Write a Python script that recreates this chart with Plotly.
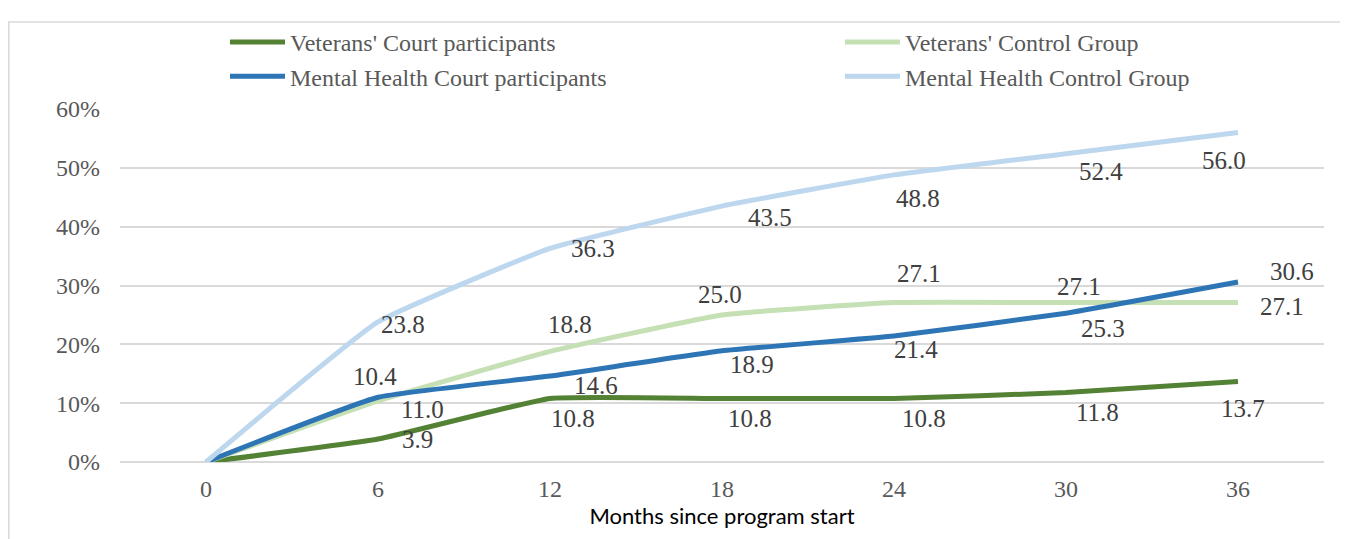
import plotly.graph_objects as go

# ---- data ----
months = ["0", "6", "12", "18", "24", "30", "36"]
series_names = [
    "Veterans' Court participants",
    "Veterans' Control Group",
    "Mental Health Court participants",
    "Mental Health Control Group",
]
vet_court = [0, 3.9, 10.8, 10.8, 10.8, 11.8, 13.7]
vet_control = [0, 10.4, 18.8, 25.0, 27.1, 27.1, 27.1]
mh_court = [0, 11.0, 14.6, 18.9, 21.4, 25.3, 30.6]
mh_control = [0, 23.8, 36.3, 43.5, 48.8, 52.4, 56.0]
y_ticks = [0, 10, 20, 30, 40, 50, 60]
y_tick_labels = ["0%", "10%", "20%", "30%", "40%", "50%", "60%"]

# ---- styles ----
colors = ["#548235", "#C5E0B4", "#2E75B6", "#BDD7EE"]
legend_of = ["legend", "legend2", "legend", "legend2"]
# label offsets (dx right, dy down) in px, per point (index 0 unlabeled)
offsets = [
    [None, (39, 0), (23, 20), (28, 20), (30, 20), (31, 20), (5, 27)],
    [None, (-3, -24), (20, -27), (-2, -20), (25, -29), (13, -16), (44, 4)],
    [None, (44, 12), (46, 9), (30, 14), (22, 13), (37, 15), (54, -10)],
    [None, (25, 3), (43, 0), (48, 11), (24, 24), (35, 18), (-14, 28)],
]

serif = "Liberation Serif, Times New Roman, serif"
all_series = [vet_court, vet_control, mh_court, mh_control]

fig = go.Figure()
for k, (name, vals, col) in enumerate(zip(series_names, all_series, colors)):
    fig.add_trace(go.Scatter(
        x=months, y=vals, name=name, mode="lines",
        line=dict(color=col, width=5, shape="spline", smoothing=0.35),
        cliponaxis=False, legend=legend_of[k], legendgroup=f"g{k}",
    ))

annotations = []
for vals, offs in zip(all_series, offsets):
    for i, (v, o) in enumerate(zip(vals, offs)):
        if o is None:
            continue
        annotations.append(dict(
            x=i, y=v, xref="x", yref="y", text=f"{v:.1f}", showarrow=False,
            xshift=o[0], yshift=-o[1],
            font=dict(family=serif, size=25, color="#404040"),
        ))

# page is offset by the 8px body margin
OFF = 8
W, H = 1340, 531
L, T = 120 - OFF, 101 - OFF
R = W - (1324 - OFF)
B = H - (462 - OFF)
pw, ph = W - L - R, H - T - B


def px_x(p):
    return (p - OFF - L) / pw


def px_y(p):
    return (H - B - (p - OFF)) / ph


shapes = [dict(
    type="rect", xref="paper", yref="paper",
    x0=px_x(8.8), x1=px_x(1360), y0=px_y(560), y1=px_y(12),
    line=dict(color="#D9D9D9", width=1.5), fillcolor="rgba(0,0,0,0)", layer="below",
)]

legend_common = dict(
    orientation="v", xanchor="left", yanchor="top",
    itemwidth=55, tracegroupgap=5,
    font=dict(family=serif, size=24, color="#595959"),
    bgcolor="rgba(0,0,0,0)", traceorder="normal",
)

fig.update_layout(
    width=W, height=H,
    margin=dict(l=L, r=R, t=T, b=B),
    paper_bgcolor="white", plot_bgcolor="white",
    font=dict(family=serif, color="#595959", size=24),
    showlegend=True,
    legend=dict(x=px_x(225), y=px_y(10), **legend_common),
    legend2=dict(x=px_x(840), y=px_y(10), **legend_common),
    xaxis=dict(
        type="category", categoryorder="array", categoryarray=months,
        range=[-0.5, 6.5], autorange=False,
        showgrid=False, showline=False, zeroline=False,
        ticks="", ticklabelstandoff=10,
        tickfont=dict(family=serif, size=24, color="#595959"),
        title=dict(text="Months since program start",
                   font=dict(family="Lato, Carlito, sans-serif", size=22, color="#000000"),
                   standoff=7),
    ),
    yaxis=dict(
        range=[0, 60], autorange=False, tickvals=y_ticks, ticktext=y_tick_labels,
        showgrid=True, gridcolor="#D9D9D9", gridwidth=1.5,
        zeroline=True, zerolinecolor="#D9D9D9", zerolinewidth=1.5,
        showline=False, ticks="", ticklabelstandoff=19,
        tickfont=dict(family=serif, size=24, color="#595959"),
    ),
    annotations=annotations,
    shapes=shapes,
)

fig.write_html("out.html")
